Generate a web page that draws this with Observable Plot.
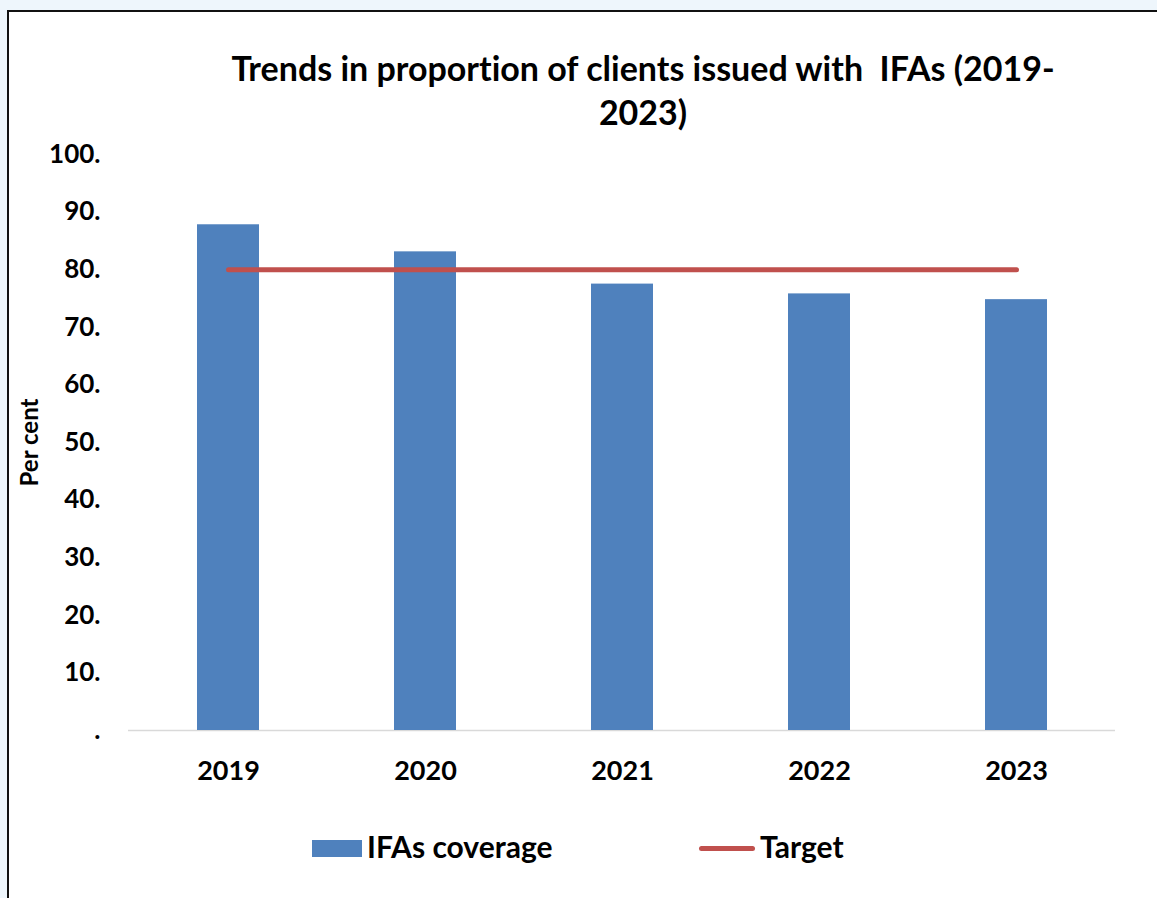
<!DOCTYPE html>
<html><head><meta charset="utf-8">
<script src="https://cdn.jsdelivr.net/npm/d3@7"></script>
<script src="https://cdn.jsdelivr.net/npm/@observablehq/plot@0.6"></script>
<style>
html,body{margin:0;padding:0;}
body{background:#eef6fc;width:1157px;height:898px;overflow:hidden;position:relative;font-family:Lato,"Open Sans",sans-serif;color:#000;font-variant-ligatures:none;}
#frame{position:absolute;left:7px;top:10px;width:1220px;height:960px;background:#fff;border-left:2px solid #111;border-top:2px solid #111;}
#title{position:absolute;left:143px;width:1000px;top:46px;text-align:center;font-weight:bold;font-size:34px;line-height:44px;white-space:pre;}
#chart{position:absolute;left:0;top:130px;}
#chart svg text{font-variant-ligatures:none;}
.leg{position:absolute;font-weight:bold;font-size:30px;line-height:30px;}
#sw1{position:absolute;left:312px;top:840px;width:50px;height:17px;background:#4f81bd;}
#sw2{position:absolute;left:699px;top:846px;width:56px;height:5px;border-radius:3px;background:#c0504d;}
</style>
</head><body>
<div id="frame"></div>
<div id="title"></div>
<div id="chart"></div>
<div id="sw1"></div><div class="leg" id="l1" style="left:367px;top:831px;"></div>
<div id="sw2"></div><div class="leg" id="l2" style="left:760px;top:831px;"></div>
<script>
const titleLines = ["Trends in proportion of clients issued with  IFAs (2019-", "2023)"];
const years = ["2019", "2020", "2021", "2022", "2023"];
const coverage = [87.8, 83.1, 77.5, 75.8, 74.8];
const target = [80, 80, 80, 80, 80];
const yTicks = [0, 10, 20, 30, 40, 50, 60, 70, 80, 90, 100];
const seriesNames = ["IFAs coverage", "Target"];
const yLabel = "Per cent";

document.getElementById("title").textContent = titleLines.join("\n");
document.getElementById("l1").textContent = seriesNames[0];
document.getElementById("l2").textContent = seriesNames[1];

const data = years.map((y, i) => ({year: y, coverage: coverage[i], target: target[i]}));

const chart = Plot.plot({
  width: 1157,
  height: 670,
  marginLeft: 128,
  marginRight: 42,
  marginTop: 24,
  marginBottom: 70,
  style: {fontFamily: "Lato, 'Open Sans', sans-serif", fontWeight: "bold", background: "transparent", color: "#000", overflow: "visible"},
  x: {domain: years, paddingInner: 0.686, paddingOuter: 0.343, axis: null},
  y: {domain: [0, 100], axis: null},
  marks: [
    Plot.ruleY([0], {stroke: "#d9d9d9", strokeWidth: 1.5}),
    Plot.barY(data, {x: "year", y: "coverage", fill: "#4f81bd"}),
    Plot.line(data, {x: "year", y: "target", stroke: "#c0504d", strokeWidth: 5, strokeLinecap: "round"}),
    Plot.axisX({tickSize: 0, tickPadding: 30, fontSize: 27, fontWeight: "bold", fill: "#000", label: null}),
    Plot.axisY({ticks: yTicks, tickSize: 0, tickPadding: 28, fontSize: 26, fontWeight: "bold", fill: "#000", label: null,
      tickFormat: d => d === 0 ? "." : d + "."}),
    Plot.text([yLabel], {frameAnchor: "left", textAnchor: "middle", rotate: -90, dx: -98, fontSize: 24, fontWeight: "bold", fill: "#000"})
  ]
});
document.getElementById("chart").appendChild(chart);
</script>
</body></html>
